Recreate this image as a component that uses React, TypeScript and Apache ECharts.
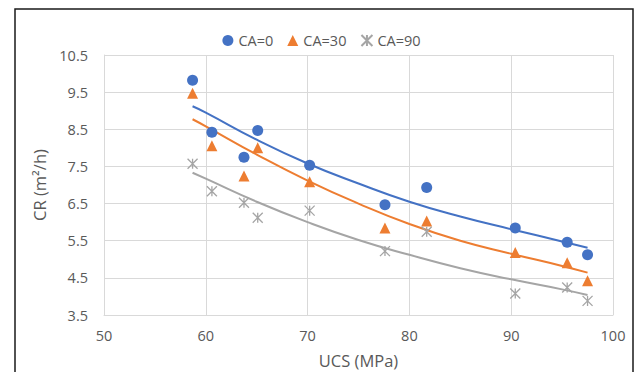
import React, { useEffect, useRef } from "react";
import * as echarts from "echarts";

const ucs = [58.7, 60.6, 63.75, 65.1, 70.2, 77.6, 81.7, 90.4, 95.5, 97.5];
const ca0 = [9.82, 8.42, 7.75, 8.47, 7.53, 6.47, 6.93, 5.84, 5.46, 5.12];
const ca30 = [9.47, 8.06, 7.24, 8.0, 7.09, 5.84, 6.03, 5.18, 4.91, 4.42];
const ca90 = [7.57, 6.83, 6.52, 6.12, 6.31, 5.22, 5.74, 4.08, 4.24, 3.88];

const trendX = [58.7, 60, 65, 70, 75, 80, 85, 90, 95, 97.5];
const trend0 = [9.12, 8.95, 8.22, 7.58, 7.04, 6.55, 6.15, 5.81, 5.48, 5.31];
const trend30 = [8.77, 8.58, 7.82, 7.12, 6.5, 5.95, 5.5, 5.15, 4.82, 4.64];
const trend90 = [7.33, 7.17, 6.55, 6.0, 5.52, 5.12, 4.76, 4.46, 4.19, 4.04];

const xTicks = { min: 50, max: 100, interval: 10 };
const yTicks = { min: 3.5, max: 10.5, interval: 1 };

const BLUE = "#4472C4";
const ORANGE = "#ED7D31";
const GRAY = "#A5A5A5";
const TEXT = "#595959";
const FONT = "Open Sans";

const zip = (xs: number[], ys: number[]) => xs.map((x, i) => [x, ys[i]]);

export default function App() {
  const ref = useRef<HTMLDivElement>(null);
  useEffect(() => {
    if (!ref.current) return;
    const chart = echarts.init(ref.current, undefined, { renderer: "svg" });
    const trend = (name: string, xs: number[], ys: number[], color: string) => ({
      name,
      type: "line",
      data: zip(xs, ys),
      smooth: true,
      showSymbol: false,
      symbol: "none",
      lineStyle: { color, width: 2 },
      z: 1,
      silent: true,
    });
    chart.setOption({
      animation: false,
      backgroundColor: "#ffffff",
      textStyle: { fontFamily: FONT },
      graphic: [
        {
          type: "rect",
          shape: { x: 15, y: 9, width: 618, height: 390 },
          style: { fill: "none", stroke: "#1a1a1a", lineWidth: 1.5 },
          silent: true,
        },
      ],
      legend: {
        top: 28,
        left: "center",
        data: ["CA=0", "CA=30", "CA=90"],
        itemWidth: 11,
        itemHeight: 11,
        itemGap: 14,
        textStyle: { color: TEXT, fontSize: 14.5, fontFamily: FONT },
      },
      grid: { left: 104, right: 30, top: 55, bottom: 65 },
      xAxis: {
        type: "value",
        min: xTicks.min,
        max: xTicks.max,
        interval: xTicks.interval,
        name: "UCS (MPa)",
        nameLocation: "middle",
        nameGap: 37,
        nameTextStyle: { color: TEXT, fontSize: 16.5, fontFamily: FONT },
        axisLine: { lineStyle: { color: "#D9D9D9" } },
        axisTick: { show: false },
        axisLabel: { color: TEXT, fontSize: 14.5, margin: 13, fontFamily: FONT },
        splitLine: { show: true, lineStyle: { color: "#D9D9D9" } },
      },
      yAxis: {
        type: "value",
        min: yTicks.min,
        max: yTicks.max,
        interval: yTicks.interval,
        name: "CR (m²/h)",
        nameLocation: "middle",
        nameGap: 52,
        nameTextStyle: { color: TEXT, fontSize: 16.5, fontFamily: FONT },
        axisLine: { show: true, lineStyle: { color: "#D9D9D9" } },
        axisTick: { show: false },
        axisLabel: {
          color: TEXT,
          fontSize: 14.5,
          margin: 16,
          fontFamily: FONT,
          formatter: (v: number) => v.toFixed(1),
        },
        splitLine: { show: true, lineStyle: { color: "#D9D9D9" } },
      },
      series: [
        trend("t0", trendX, trend0, BLUE),
        trend("t30", trendX, trend30, ORANGE),
        trend("t90", trendX, trend90, GRAY),
        {
          name: "CA=0",
          type: "scatter",
          data: zip(ucs, ca0),
          symbol: "circle",
          symbolSize: 11,
          itemStyle: { color: BLUE, opacity: 1 },
          z: 3,
        },
        {
          name: "CA=30",
          type: "scatter",
          data: zip(ucs, ca30),
          symbol: "triangle",
          symbolSize: 11,
          itemStyle: { color: ORANGE, opacity: 1 },
          z: 3,
        },
        {
          name: "CA=90",
          type: "scatter",
          data: zip(ucs, ca90),
          symbol: "path://M0,0L10,10M10,0L0,10M5,0L5,10",
          symbolSize: 10,
          itemStyle: {
            color: "rgba(0,0,0,0)",
            borderColor: GRAY,
            borderWidth: 1.3,
            opacity: 1,
          },
          z: 3,
        },
      ],
    });
    return () => chart.dispose();
  }, []);
  return <div ref={ref} style={{ width: 643, height: 380, margin: -8 }} />;
}
